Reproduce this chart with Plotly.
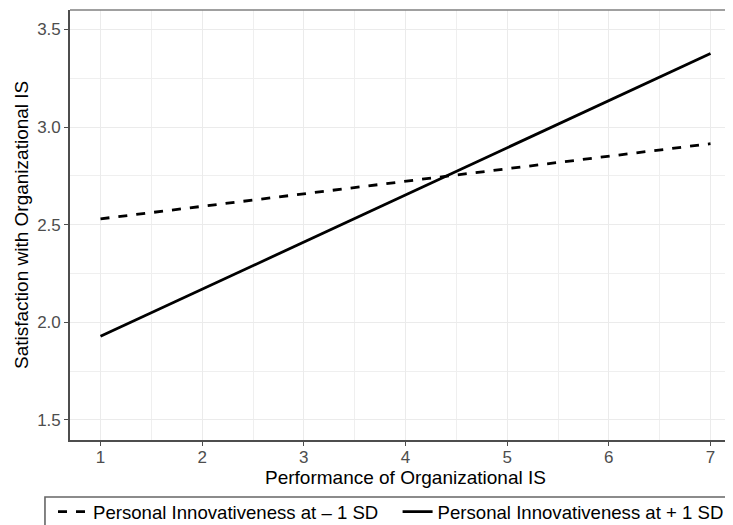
import plotly.graph_objects as go

x_vals = [1, 7]
low_sd = [2.53, 2.915]
high_sd = [1.928, 3.377]
series_names = ["Personal Innovativeness at \u2013 1 SD", "Personal Innovativeness at + 1 SD"]
x_ticks = [1, 2, 3, 4, 5, 6, 7]
y_ticks = [1.5, 2.0, 2.5, 3.0, 3.5]
y_tick_labels = ["1.5", "2.0", "2.5", "3.0", "3.5"]
x_title = "Performance of Organizational IS"
y_title = "Satisfaction with Organizational IS"

fig = go.Figure()
fig.add_trace(go.Scatter(x=x_vals, y=low_sd, mode="lines", name=series_names[0],
                         line=dict(color="black", width=2.8, dash="dash"), legend="legend"))
fig.add_trace(go.Scatter(x=x_vals, y=high_sd, mode="lines", name=series_names[1],
                         line=dict(color="black", width=2.8), legend="legend2"))

font = "Liberation Sans, Arial, sans-serif"
leg_common = dict(orientation="h", xref="container", yref="container",
                  y=0.0762, xanchor="left", yanchor="top",
                  borderwidth=0, font=dict(size=18.6, family=font),
                  itemwidth=30, bgcolor="rgba(0,0,0,0)")
fig.update_layout(
    width=733, height=525,
    margin=dict(l=62, r=0, t=2, b=93, autoexpand=False),
    paper_bgcolor="white", plot_bgcolor="white",
    font=dict(family=font, color="black"),
    showlegend=True,
    legend=dict(x=0.0614, **leg_common),
    legend2=dict(x=0.5315, **leg_common),
    shapes=[
        dict(type="line", xref="paper", yref="paper", x0=0, x1=1, y0=1, y1=1,
             line=dict(color="#808080", width=1.3)),
        dict(type="rect", xref="paper", yref="paper", x0=-0.0373, x1=1.05,
             y0=-0.1326, y1=-0.3, line=dict(color="#666666", width=1.6)),
    ],
    annotations=[
        dict(text=x_title, xref="paper", yref="paper", x=0.5, y=-0.0875,
             xanchor="center", yanchor="middle", showarrow=False,
             font=dict(size=19, color="black")),
        dict(text=y_title, xref="paper", yref="paper", x=-0.073, y=0.5,
             xanchor="center", yanchor="middle", showarrow=False, textangle=-90,
             font=dict(size=19, color="black")),
    ],
)
fig.update_xaxes(
    range=[0.7, 7.3], tickvals=x_ticks, ticktext=[str(v) for v in x_ticks],
    showgrid=True, gridcolor="#EBEBEB", gridwidth=1.2,
    minor=dict(dtick=0.5, tick0=0.5, showgrid=True, gridcolor="#EFEFEF", gridwidth=0.8),
    showline=True, linecolor="#4D4D4D", linewidth=1.6,
    ticks="outside", ticklen=4, tickcolor="#4D4D4D", tickwidth=1.2,
    tickfont=dict(size=17, color="#4D4D4D"), ticklabelstandoff=-3,
    automargin=False, zeroline=False,
)
fig.update_yaxes(
    range=[1.397, 3.6], tickvals=y_ticks, ticktext=y_tick_labels,
    showgrid=True, gridcolor="#EBEBEB", gridwidth=1.2,
    minor=dict(dtick=0.25, tick0=1.25, showgrid=True, gridcolor="#EFEFEF", gridwidth=0.8),
    showline=True, linecolor="#4D4D4D", linewidth=1.6,
    ticks="outside", ticklen=4, tickcolor="#4D4D4D", tickwidth=1.2,
    tickfont=dict(size=17, color="#4D4D4D"),
    automargin=False, zeroline=False,
)

fig.write_html("out.html")
